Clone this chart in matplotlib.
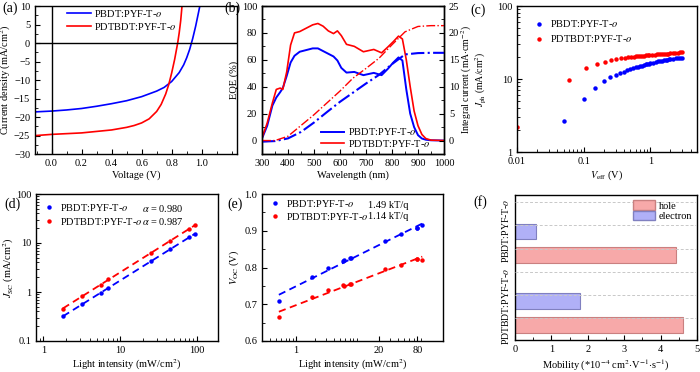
import numpy as np
import matplotlib
matplotlib.use('Agg')
import matplotlib.pyplot as plt
from matplotlib.ticker import AutoMinorLocator, FixedLocator, NullFormatter
from matplotlib.patches import Patch
from matplotlib.lines import Line2D

plt.rcParams['font.family'] = ['Liberation Serif', 'DejaVu Serif']
plt.rcParams['mathtext.fontset'] = 'stix'
plt.rcParams['font.size'] = 7.5
plt.rcParams['xtick.direction'] = 'in'
plt.rcParams['ytick.direction'] = 'in'
plt.rcParams['axes.linewidth'] = 1.0

lab_b = 'PBDT:PYF-T-$o$'
lab_r = 'PDTBDT:PYF-T-$o$'

# (a) J-V curves
v_blue = [-0.1, 0.0, 0.1, 0.2, 0.3, 0.4, 0.5, 0.6, 0.7, 0.75, 0.8, 0.85, 0.88, 0.9, 0.92, 0.94, 0.96, 0.98, 0.99]
j_blue = [-18.6, -18.4, -18.1, -17.7, -17.1, -16.4, -15.6, -14.5, -13.0, -12.0, -10.4, -8.0, -5.9, -4.0, -1.7, 1.2, 4.6, 8.5, 10.5]
v_red = [-0.1, 0.0, 0.1, 0.2, 0.3, 0.4, 0.5, 0.55, 0.6, 0.65, 0.7, 0.73, 0.76, 0.78, 0.8, 0.82, 0.84, 0.85, 0.86, 0.87]
j_red = [-25.0, -24.7, -24.5, -24.3, -23.9, -23.5, -22.8, -22.3, -21.6, -20.5, -18.5, -16.6, -13.8, -11.3, -8.1, -4.4, 0.0, 2.7, 6.0, 10.5]

# (b) EQE and integrated current
wl = [300, 320, 340, 355, 370, 380, 395, 410, 425, 445, 465, 495, 515, 535, 555, 575, 590, 605, 625, 655,
      690, 730, 760, 785, 805, 825, 840, 855, 870, 885, 900, 915, 930, 950, 1000]
eqe_red = [2, 13, 28, 38, 39, 38, 51, 71, 80, 81, 83, 86, 87, 85, 81.5, 79.5, 81.5, 78, 71.5, 70,
           66, 67.7, 65.2, 69.7, 73.5, 77.6, 75.5, 60, 40, 22, 11, 4.5, 1.5, 0.3, 0]
eqe_blue = [1.5, 11, 26, 32, 36, 39, 48, 58, 63, 66, 67, 68.5, 68.5, 66.5, 64.5, 62.5, 59.5, 54, 50.5, 51,
            48.6, 50.3, 48.6, 53.5, 58, 61.8, 59.5, 38, 20, 10, 4, 1.5, 0.6, 0.2, 0]
wl_int = [300, 350, 400, 450, 500, 550, 600, 650, 700, 750, 800, 850, 900, 950, 1000]
jint_red = [0, 0, 0.8, 2.8, 4.8, 7.0, 9.2, 11.6, 13.4, 15.3, 17.8, 20.2, 21.2, 21.35, 21.35]
jint_blue = [-0.2, -0.1, 0.4, 1.6, 3.35, 5.3, 7.2, 8.9, 10.6, 12.2, 14.2, 16.0, 16.25, 16.3, 16.3]

# (c) Jph vs Veff
veff_blue = [0.05, 0.10, 0.15, 0.20, 0.25, 0.30, 0.35, 0.40, 0.45, 0.50, 0.55, 0.60, 0.65, 0.70, 0.75,
             0.80, 0.85, 0.90, 0.95, 1.0, 1.1, 1.2, 1.3, 1.4, 1.5, 1.6, 1.7, 1.8, 1.9, 2.0, 2.2, 2.4, 2.6, 2.8, 3.0]
jph_blue = [2.7, 5.3, 7.6, 9.4, 10.6, 11.4, 12.0, 12.6, 13.1, 13.6, 14.0, 14.4, 14.7, 15.0, 15.3,
            15.5, 15.8, 16.0, 16.2, 16.4, 16.8, 17.1, 17.4, 17.6, 17.8, 18.0, 18.2, 18.3, 18.5, 18.6, 18.9, 19.1, 19.3, 19.5, 19.7]
veff_red = [0.01, 0.06, 0.11, 0.16, 0.21, 0.26, 0.31, 0.36, 0.41, 0.46, 0.51, 0.56, 0.61, 0.66, 0.71,
            0.76, 0.81, 0.86, 0.91, 0.96, 1.06, 1.16, 1.26, 1.36, 1.46, 1.56, 1.66, 1.76, 1.86, 1.96, 2.16, 2.36, 2.56, 2.76, 2.96]
jph_red = [2.2, 9.8, 14.0, 16.1, 17.3, 18.1, 18.7, 19.2, 19.5, 19.8, 20.0, 20.2, 20.4, 20.5, 20.7,
           20.8, 20.9, 21.0, 21.1, 21.2, 21.4, 21.5, 21.7, 21.8, 21.9, 22.0, 22.1, 22.2, 22.3, 22.4, 22.6, 22.8, 22.9, 23.1, 23.3]

# (d) Jsc vs light intensity
pin_d = [1.8, 3.2, 5.6, 7.0, 25, 45, 80, 95]
jsc_blue = [0.32, 0.56, 0.97, 1.2, 4.2, 7.4, 13.0, 15.5]
jsc_red = [0.46, 0.82, 1.4, 1.8, 6.2, 11.0, 19.5, 23.0]
alpha_txt = ['$\\alpha$ = 0.980', '$\\alpha$ = 0.987']

# (e) Voc vs light intensity
pin_e = [0.55, 1.8, 3.2, 5.6, 5.7, 7.1, 7.3, 25, 45, 78, 80, 95]
voc_blue = [0.709, 0.773, 0.798, 0.819, 0.821, 0.825, 0.827, 0.872, 0.890, 0.908, 0.907, 0.917]
voc_red = [0.666, 0.719, 0.739, 0.752, 0.750, 0.754, 0.754, 0.795, 0.808, 0.823, 0.824, 0.821]
slope_txt = ['1.49 kT/q', '1.14 kT/q']

# (f) mobilities (1e-4 cm2/Vs)
blends = ['PBDT:PYF-T-$o$', 'PDTBDT:PYF-T-$o$']
mu_hole = [4.43, 4.62]
mu_elec = [0.58, 1.78]

fig = plt.figure(figsize=(7, 3.72), dpi=100)

def frac(l, t, r, b):
    return [l / 700, 1 - b / 372, (r - l) / 700, (b - t) / 372]

# ---------- (a)
ax = fig.add_axes(frac(35, 6, 237, 154))
ax.plot(v_blue, j_blue, color='blue', lw=1.2, label=lab_b)
ax.plot(v_red, j_red, color='red', lw=1.2, label=lab_r)
ax.axhline(0, color='k', lw=1)
ax.axvline(0, color='k', lw=1)
ax.set_xlim(-0.11, 1.235)
ax.set_ylim(-30, 10)
ax.set_xticks([0, 0.2, 0.4, 0.6, 0.8, 1.0])
ax.set_xticklabels(['0.0', '0.2', '0.4', '0.6', '0.8', '1.0'])
ax.set_yticks(range(-30, 11, 5))
ax.xaxis.set_minor_locator(AutoMinorLocator(2))
ax.yaxis.set_minor_locator(AutoMinorLocator(2))
ax.set_xlabel('Voltage (V)', labelpad=2)
ax.set_ylabel('Current density (mA/cm$^2$)')
ax.yaxis.set_label_coords(-0.108, 0.5)
ax.legend(loc='upper left', bbox_to_anchor=(0.15, 1.0), frameon=False, handlelength=2.3,
          handletextpad=0.3, labelspacing=0.15, borderpad=0.2, borderaxespad=0)
fig.text(2 / 700, 1 - 12 / 372, '(a)', fontsize=10)

# ---------- (b)
ax = fig.add_axes(frac(262, 6, 444, 154))
ax.plot(wl, eqe_blue, color='blue', lw=1.4)
ax.plot(wl, eqe_red, color='red', lw=1.2)
ax.set_xlim(300, 1000)
ax.set_ylim(-10, 100)
ax.set_xticks(range(300, 1001, 100))
ax.set_yticks(range(0, 101, 20))
ax.xaxis.set_minor_locator(AutoMinorLocator(2))
ax.yaxis.set_minor_locator(AutoMinorLocator(2))
ax.set_xlabel('Wavelength (nm)', labelpad=2)
ax.set_ylabel('EQE (%)', labelpad=2)
ax2 = ax.twinx()
ax2.plot(wl_int, jint_blue, color='blue', lw=1.5, ls='-.')
ax2.plot(wl_int, jint_red, color='red', lw=1.0, ls='-.')
ax2.set_ylim(-2.5, 25)
ax2.set_yticks(range(0, 26, 5))
ax2.yaxis.set_minor_locator(AutoMinorLocator(2))
ax2.tick_params(direction='in', which='both')
ax2.set_ylabel('Integral current (mA$\\cdot$cm$^{-2}$)', fontsize=7)
ax2.yaxis.set_label_coords(1.083, 0.5)
hb = [Line2D([], [], color='blue', lw=1.4), Line2D([], [], color='red', lw=1.2)]
ax2.legend(hb, [lab_b, lab_r], loc='lower left', bbox_to_anchor=(0.31, 0.02), frameon=False,
           handlelength=2.3, handletextpad=0.3, labelspacing=0.05, borderpad=0.2, borderaxespad=0)
fig.text(224 / 700, 1 - 12 / 372, '(b)', fontsize=10)

# ---------- (c)
ax = fig.add_axes(frac(517, 6, 697, 152))
ax.plot(veff_blue, jph_blue, 'o', color='blue', ms=3.2, mec='none', label=lab_b)
ax.plot(veff_red, jph_red, 'o', color='red', ms=3.2, mec='none', label=lab_r)
ax.set_xscale('log')
ax.set_yscale('log')
ax.set_xlim(0.01, 5)
ax.set_ylim(1, 100)
ax.set_xticks([0.01, 0.1, 1])
ax.set_xticklabels(['0.01', '0.1', '1'])
ax.set_yticks([1, 10, 100])
ax.set_yticklabels(['1', '10', '100'])
ax.set_xlabel('$V_{\\rm eff}$ (V)', labelpad=2)
ax.set_ylabel('$J_{\\rm ph}$ (mA/cm$^2$)', fontsize=7)
ax.yaxis.set_label_coords(-0.163, 0.5)
ax.legend(loc='upper left', bbox_to_anchor=(0.08, 0.93), frameon=False, handlelength=1.0,
          handletextpad=0.6, labelspacing=0.4, borderpad=0.2, borderaxespad=0)
fig.text(470 / 700, 1 - 14 / 372, '(c)', fontsize=10)

# ---------- (d)
ax = fig.add_axes(frac(36, 194, 218, 341))
for y, c, lab in [(jsc_blue, 'blue', lab_b), (jsc_red, 'red', lab_r)]:
    k, b = np.polyfit(np.log10(pin_d), np.log10(y), 1)
    xs = np.array([pin_d[0], pin_d[-1]])
    ax.plot(xs, 10 ** (k * np.log10(xs) + b), color=c, ls=(0, (4, 2.5)), lw=1.3)
    ax.plot(pin_d, y, 'o', color=c, ms=3.2, mec='none', label=lab)
ax.set_xscale('log')
ax.set_yscale('log')
ax.set_xlim(0.8, 190)
ax.set_ylim(0.1, 100)
ax.set_xticks([1, 10, 100])
ax.set_xticklabels(['1', '10', '100'])
ax.set_yticks([0.1, 1, 10, 100])
ax.set_yticklabels(['0.1', '1', '10', '100'])
ax.set_xlabel('Light intensity (mW/cm$^2$)', labelpad=2)
ax.set_ylabel('$J_{\\rm SC}$ (mA/cm$^2$)', labelpad=0)
ax.legend(loc='upper left', bbox_to_anchor=(0.03, 0.96), frameon=False, handlelength=1.0,
          handletextpad=0.6, labelspacing=0.25, borderpad=0.2, borderaxespad=0)
ax.text(0.585, 0.9, alpha_txt[0], transform=ax.transAxes, va='center')
ax.text(0.585, 0.815, alpha_txt[1], transform=ax.transAxes, va='center')
fig.text(4 / 700, 1 - 208 / 372, '(d)', fontsize=10)

# ---------- (e)
ax = fig.add_axes(frac(262, 194, 443, 341))
for y, c, lab in [(voc_blue, 'blue', lab_b), (voc_red, 'red', lab_r)]:
    k, b = np.polyfit(np.log(pin_e), y, 1)
    xs = np.array([pin_e[0], pin_e[-1]])
    ax.plot(xs, k * np.log(xs) + b, color=c, ls=(0, (4, 2.5)), lw=1.3)
    ax.plot(pin_e, y, 'o', color=c, ms=3.2, mec='none', label=lab)
ax.set_xscale('log')
ax.set_xlim(0.3, 200)
ax.set_ylim(0.6, 1.0)
ax.xaxis.set_major_locator(FixedLocator([1, 20, 80]))
ax.set_xticklabels(['1', '20', '80'])
ax.set_yticks([0.6, 0.7, 0.8, 0.9, 1.0])
ax.yaxis.set_minor_locator(AutoMinorLocator(2))
ax.xaxis.set_minor_formatter(NullFormatter())
ax.set_xlabel('Light intensity (mW/cm$^2$)', labelpad=2)
ax.set_ylabel('$V_{\\rm OC}$ (V)', labelpad=2)
ax.legend(loc='upper left', bbox_to_anchor=(0.03, 0.99), frameon=False, handlelength=1.0,
          handletextpad=0.6, labelspacing=0.2, borderpad=0.2, borderaxespad=0)
ax.text(0.585, 0.925, slope_txt[0], transform=ax.transAxes, va='center')
ax.text(0.585, 0.845, slope_txt[1], transform=ax.transAxes, va='center')
fig.text(227 / 700, 1 - 208 / 372, '(e)', fontsize=10)

# ---------- (f)
ax = fig.add_axes(frac(515, 195, 697, 340))
ypos_hole = [3, 0]
ypos_elec = [4, 1]
for yy in [0.27, 1.27, 2.27, 3.27, 4.27, 5.27]:
    ax.axhline(yy, color='#c8c8c8', lw=0.7, ls=(0, (3, 2)), zorder=3)
ax.barh(ypos_hole, mu_hole, height=0.68, color='#f7a9a9', edgecolor='#c98080', lw=0.8, label='hole', zorder=2)
ax.barh(ypos_elec, mu_elec, height=0.68, color='#b0b0f7', edgecolor='#8080c0', lw=0.8, label='electron', zorder=2)
ax.set_xlim(0, 5)
ax.set_ylim(-0.66, 5.57)
ax.set_xticks(range(0, 6))
ax.xaxis.set_minor_locator(AutoMinorLocator(2))
ax.set_yticks([4.02, 0.8])
ax.set_yticklabels(blends, rotation=90, va='center', fontsize=7)
ax.tick_params(axis='y', length=0, pad=3)
ax.set_xlabel('Mobility (*10$^{-4}$ cm$^2$$\\cdot$V$^{-1}$$\\cdot$s$^{-1}$)', labelpad=3)
hf = [Patch(facecolor='#f7a9a9', edgecolor='#c98080'), Patch(facecolor='#b0b0f7', edgecolor='#8080c0')]
ax.legend(hf, ['hole', 'electron'], loc='upper left', bbox_to_anchor=(0.64, 0.97), frameon=False,
          handlelength=2.2, handleheight=1.0, handletextpad=0.3, labelspacing=0.05,
          borderpad=0.1, borderaxespad=0)
fig.text(473 / 700, 1 - 206 / 372, '(f)', fontsize=10)

fig.savefig('out.png', dpi=100)
